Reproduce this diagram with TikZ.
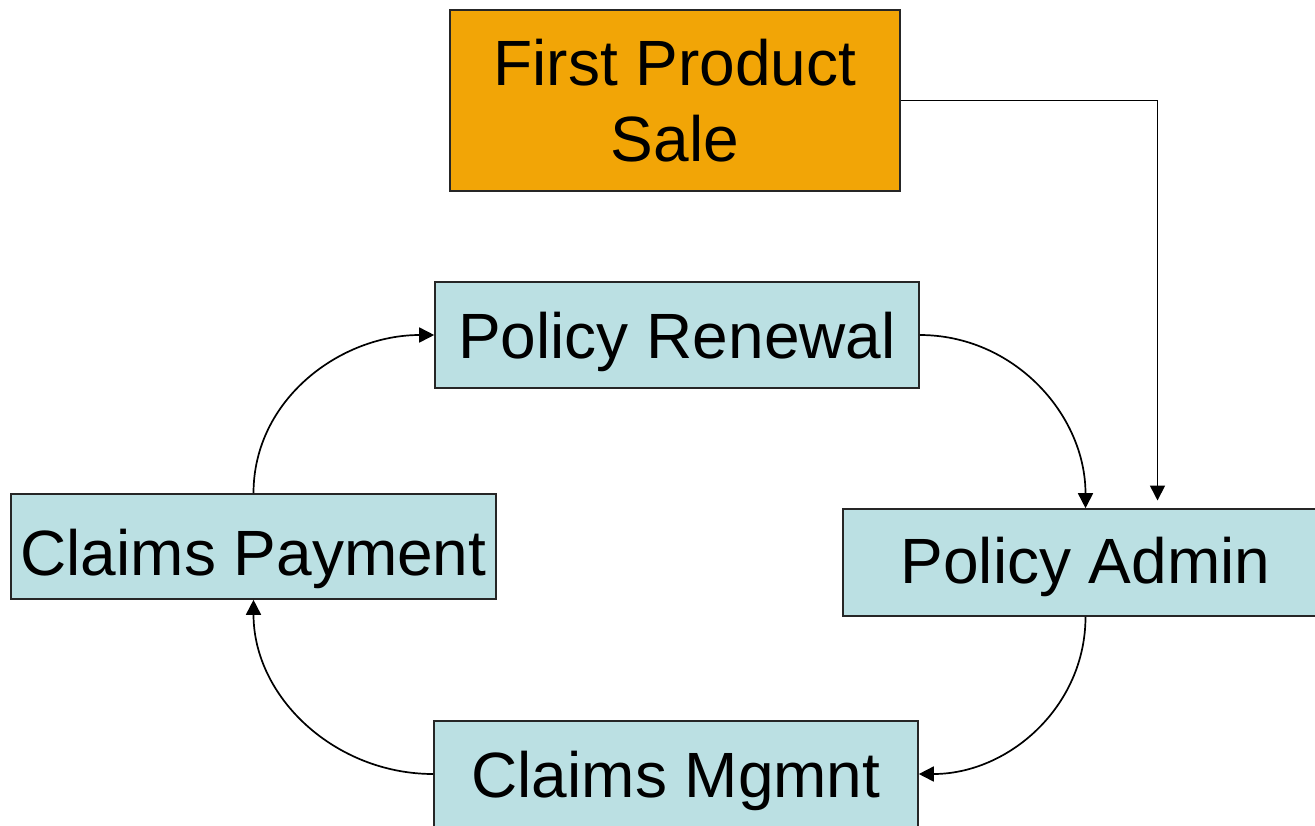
\documentclass[tikz,border=0pt]{standalone}
\usepackage{fontspec}
\setmainfont{Liberation Sans}
\usetikzlibrary{arrows.meta}
\definecolor{saleorange}{HTML}{F2A506}
\definecolor{stageblue}{HTML}{BBE0E3}
\begin{document}
\begin{tikzpicture}[x=0.5pt,y=-0.5pt,
  box/.style={draw=black!85, line width=0.8pt, fill=stageblue, inner sep=0pt,
    font=\fontsize{32}{38}\selectfont, align=center},
  oneline/.style={text height=23pt, text depth=0pt},
  flow/.style={line width=0.85pt, draw=black, -{Triangle[length=7.5pt,width=7.5pt]}}]
\clip (0,0) rectangle (1315,825);
\fill[white] (0,0) rectangle (1315,825);

% stages of the policy cycle
\node[box, fill=saleorange, minimum width=225.25pt, minimum height=90.5pt]
  (sale) at (675,100.5) {First Product\\Sale};
\node[box, oneline, minimum width=242pt, minimum height=53pt]
  (renewal) at (677,335) {Policy Renewal};
\node[box, text height=21pt, text depth=0pt, minimum width=242.5pt, minimum height=53.5pt]
  (admin) at (1085.5,562.5) {Policy Admin};
\node[box, oneline, minimum width=242pt, minimum height=53pt]
  (mgmnt) at (676,774) {Claims Mgmnt};
\node[box, text height=29pt, text depth=0pt, minimum width=242.5pt, minimum height=52.5pt]
  (payment) at (253.5,546.5) {Claims Payment};

% entry point into administration
\coordinate (adminIn) at (1157.5,500.5);
\draw[flow] (sale.east) -| (adminIn);

% the cycle
\draw[flow] (renewal.east) to[out=0,in=90] (admin.north);
\draw[flow] (admin.south) to[out=-90,in=0] (mgmnt.east);
\draw[flow] (mgmnt.west) to[out=180,in=-90] (payment.south);
\draw[flow] (payment.north) to[out=90,in=180] (renewal.west);
\end{tikzpicture}
\end{document}
